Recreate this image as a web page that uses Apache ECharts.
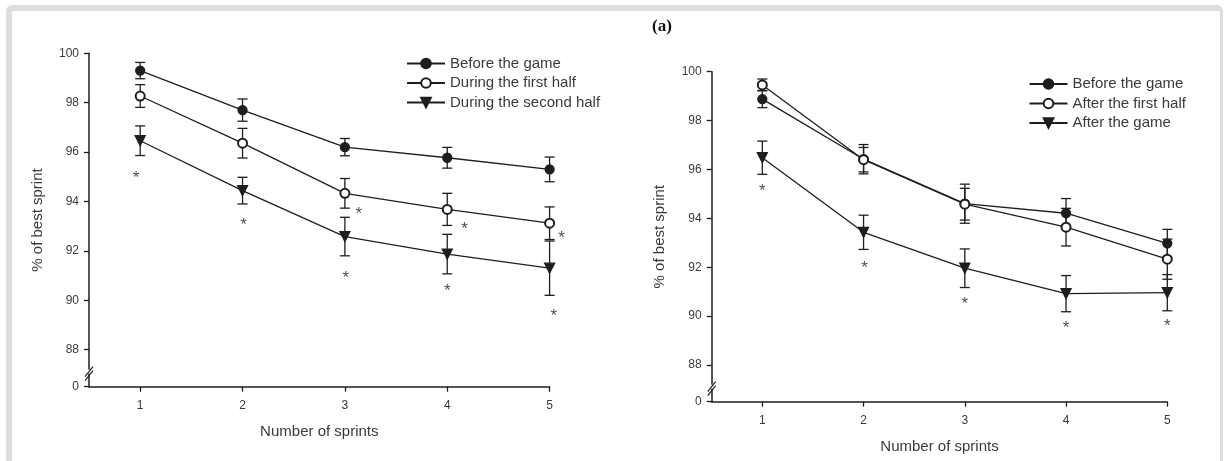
<!DOCTYPE html>
<html>
<head>
<meta charset="utf-8">
<script src="https://cdn.jsdelivr.net/npm/echarts@6/dist/echarts.min.js"></script>
<style>
html,body{margin:0;padding:0;background:#fff;}
#chart{width:1225px;height:461px;}
</style>
</head>
<body>
<div id="chart"></div>
<script>
// ---- data ----
const sprints = [1, 2, 3, 4, 5];
const yTickValues = [86.5, 88, 90, 92, 94, 96, 98, 100];
const yTickLabels = ['0', '88', '90', '92', '94', '96', '98', '100'];
const xTickLabels = ['1', '2', '3', '4', '5'];

const leftNames = ['Before the game', 'During the first half', 'During the second half'];
const leftBefore = [99.3, 97.7, 96.2, 95.77, 95.3];
const leftBeforeErr = [0.33, 0.45, 0.35, 0.42, 0.5];
const leftFirst = [98.27, 96.36, 94.33, 93.68, 93.12];
const leftFirstErr = [0.46, 0.6, 0.6, 0.65, 0.66];
const leftSecond = [96.46, 94.44, 92.58, 91.87, 91.3];
const leftSecondErr = [0.6, 0.54, 0.78, 0.8, 1.1];
const leftStars = [[0.96, 95.11], [2.01, 93.18], [3.135, 93.63], [3.01, 91.05], [4.17, 93.02], [4.0, 90.51], [5.116, 92.67], [5.04, 89.5]];

const rightNames = ['Before the game', 'After the first half', 'After the game'];
const rightBefore = [98.88, 96.42, 94.6, 94.21, 92.98];
const rightBeforeErr = [0.35, 0.6, 0.8, 0.6, 0.57];
const rightFirst = [99.46, 96.4, 94.58, 93.64, 92.33];
const rightFirstErr = [0.24, 0.5, 0.65, 0.77, 0.82];
const rightAfter = [96.48, 93.43, 91.96, 90.92, 90.96];
const rightAfterErr = [0.68, 0.7, 0.79, 0.74, 0.74];
const rightStars = [[1, 95.27], [2.01, 92.12], [3, 90.66], [4, 89.68], [5, 89.73]];

const panelTitle = '(a)';
const xName = 'Number of sprints';
const yName = '% of best sprint';

// ---- style ----
const INK = '#1e1e1e';
const TXT = '#3a3a3a';
const FONT = "'Liberation Sans', Arial, sans-serif";

const chart = echarts.init(document.getElementById('chart'), null, {renderer: 'canvas'});

function pairs(vals) { return sprints.map((x, i) => [x, vals[i]]); }
function errData(vals, errs) { return sprints.map((x, i) => [x, vals[i] - errs[i], vals[i] + errs[i]]); }

function errRender(params, api) {
  const x = api.value(0), lo = api.value(1), hi = api.value(2);
  const pt = api.coord([x, hi]);
  const pb = api.coord([x, lo]);
  const w = 5;
  const st = {stroke: INK, lineWidth: 1.3};
  return {
    type: 'group',
    children: [
      {type: 'line', shape: {x1: pt[0], y1: pt[1], x2: pb[0], y2: pb[1]}, style: st},
      {type: 'line', shape: {x1: pt[0] - w, y1: pt[1], x2: pt[0] + w, y2: pt[1]}, style: st},
      {type: 'line', shape: {x1: pb[0] - w, y1: pb[1], x2: pb[0] + w, y2: pb[1]}, style: st}
    ]
  };
}

const markerDefs = [
  {symbol: 'circle', rotate: 0, size: 9},
  {symbol: 'emptyCircle', rotate: 0, size: 9},
  {symbol: 'triangle', rotate: 180, size: 10}
];

function makeSeries(names, means, errs, stars, idx) {
  const out = [];
  names.forEach((n, k) => {
    out.push({
      type: 'custom', name: n + ' err', xAxisIndex: idx, yAxisIndex: idx,
      renderItem: errRender, data: errData(means[k], errs[k]),
      encode: {x: 0, y: [1, 2]}, z: 1, silent: true
    });
  });
  names.forEach((n, k) => {
    const m = markerDefs[k];
    out.push({
      type: 'line', name: n, xAxisIndex: idx, yAxisIndex: idx,
      data: pairs(means[k]),
      symbol: m.symbol, symbolSize: m.size, symbolRotate: m.rotate,
      showAllSymbol: true,
      lineStyle: {color: INK, width: 1.3},
      itemStyle: {color: INK, borderColor: INK, borderWidth: 1.3},
      z: 3
    });
  });
  out.push({
    type: 'scatter', name: 'stars' + idx, xAxisIndex: idx, yAxisIndex: idx,
    data: stars, symbol: 'circle', symbolSize: 1, clip: false,
    itemStyle: {color: 'transparent'},
    label: {show: true, position: 'inside', formatter: '*', fontSize: 17,
            fontFamily: FONT, color: INK, offset: [0, 4]},
    silent: true, z: 4
  });
  return out;
}

function xAxis(idx) {
  return {
    type: 'value', gridIndex: idx, min: 0.5, max: 5,
    name: xName, nameLocation: 'middle', nameGap: 38,
    nameTextStyle: {fontSize: 15, color: TXT, fontFamily: FONT},
    axisLine: {show: true, lineStyle: {color: INK, width: 1.5}},
    axisTick: {show: true, length: 5, customValues: sprints, lineStyle: {color: INK, width: 1.3}},
    axisLabel: {customValues: sprints, margin: 13, fontSize: 12, color: TXT, fontFamily: FONT,
                formatter: v => xTickLabels[sprints.indexOf(v)]},
    splitLine: {show: false}
  };
}
function yAxis(idx) {
  return {
    type: 'value', gridIndex: idx, min: 86.5, max: 100,
    name: yName, nameLocation: 'middle', nameGap: 44, nameRotate: 90,
    nameTextStyle: {fontSize: 15, color: TXT, fontFamily: FONT},
    axisLine: {show: true, lineStyle: {color: INK, width: 1.5}},
    axisTick: {show: true, length: 5, customValues: yTickValues, lineStyle: {color: INK, width: 1.3}},
    axisLabel: {customValues: yTickValues, margin: 10, fontSize: 12, color: TXT, fontFamily: FONT,
                formatter: v => yTickLabels[yTickValues.indexOf(v)]},
    splitLine: {show: false}
  };
}

function legend(names, left, top) {
  return {
    data: names, left: left, top: top, orient: 'vertical',
    itemWidth: 38, itemHeight: 12, itemGap: 4.5,
    textStyle: {fontSize: 15, color: TXT, fontFamily: FONT},
    selectedMode: false
  };
}

const option = {
  animation: false,
  backgroundColor: '#ffffff',
  grid: [
    {left: 89, top: 53.3, right: 675.4, bottom: 74.3},
    {left: 711.7, top: 71.7, right: 57.7, bottom: 59.3}
  ],
  xAxis: [xAxis(0), xAxis(1)],
  yAxis: [yAxis(0), yAxis(1)],
  legend: [legend(leftNames, 401, 51), legend(rightNames, 1023.5, 71.5)],
  series: [].concat(
    makeSeries(leftNames, [leftBefore, leftFirst, leftSecond], [leftBeforeErr, leftFirstErr, leftSecondErr], leftStars, 0),
    makeSeries(rightNames, [rightBefore, rightFirst, rightAfter], [rightBeforeErr, rightFirstErr, rightAfterErr], rightStars, 1)
  )
};
chart.setOption(option);

// decorations: frame, panel title, axis-break marks
function breakMarks(idx) {
  const p = chart.convertToPixel({gridIndex: idx}, [0.5, 87.03]);
  const cx = p[0], cy = p[1];
  const mk = dy => ({
    type: 'line', z: 10,
    shape: {x1: cx - 4, y1: cy + 5 + dy, x2: cx + 4, y2: cy - 5 + dy},
    style: {stroke: INK, lineWidth: 1.2}
  });
  return [
    {type: 'rect', z: 9, shape: {x: cx - 5, y: cy - 4, width: 10, height: 4}, style: {fill: '#fff'}},
    mk(-2), mk(2)
  ];
}
chart.setOption({
  graphic: [
    {type: 'rect', z: -10, silent: true, shape: {x: 6, y: 5, width: 1217, height: 470, r: 6}, style: {fill: '#dddddd'}},
    {type: 'rect', z: -9, silent: true, shape: {x: 12, y: 11, width: 1208, height: 460, r: 2}, style: {fill: '#ffffff'}},
    {type: 'text', z: 10, left: 652, top: 18,
     style: {text: panelTitle, font: "bold 17px 'Liberation Serif', 'Times New Roman', serif", fill: '#111'}}
  ].concat(breakMarks(0), breakMarks(1))
});
</script>
</body>
</html>
